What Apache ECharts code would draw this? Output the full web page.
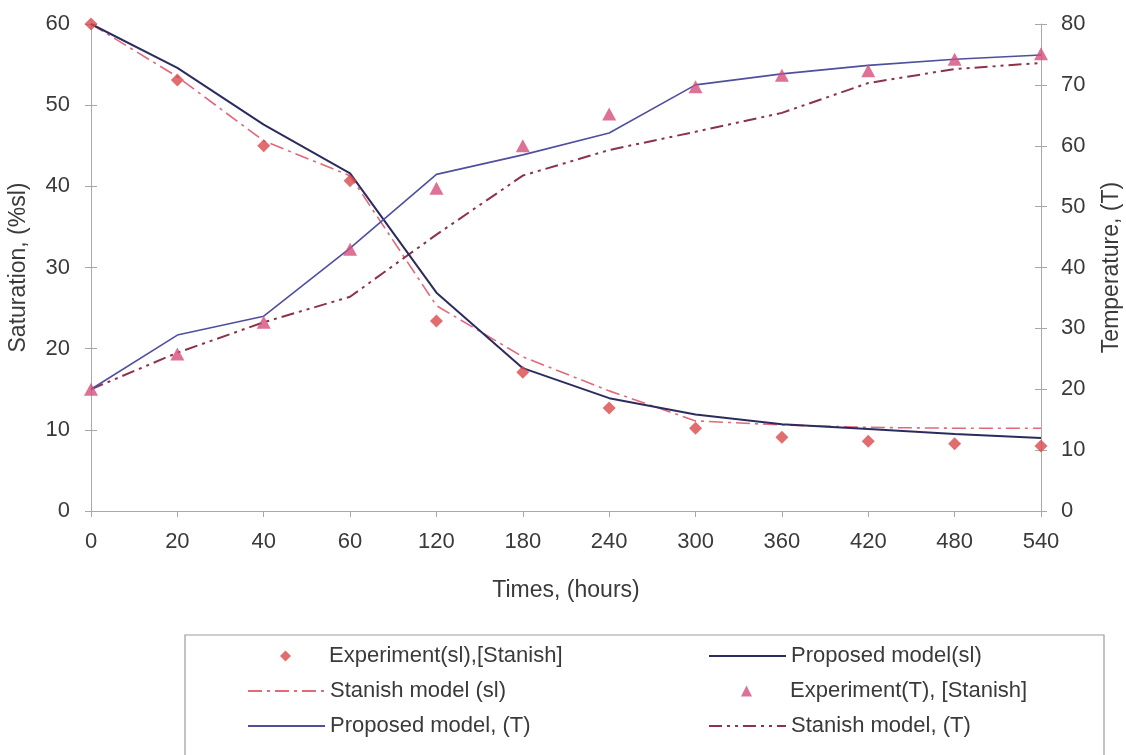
<!DOCTYPE html>
<html>
<head>
<meta charset="utf-8">
<script src="https://cdn.jsdelivr.net/npm/echarts@6/dist/echarts.min.js"></script>
<style>
  html, body { margin: 0; padding: 0; background: #ffffff; }
  #chart { width: 1126px; height: 755px; }
</style>
</head>
<body>
<div id="chart"></div>
<script>
// Sampling times (hours) – equally spaced categories on the x axis
const hours = ['0', '20', '40', '60', '120', '180', '240', '300', '360', '420', '480', '540'];

// Saturation (%sl), left axis
const experimentSl = [60, 53.1, 45.0, 40.7, 23.4, 17.1, 12.7, 10.2, 9.1, 8.6, 8.3, 8.0];
const proposedSl   = [60, 54.6, 47.6, 41.6, 26.9, 17.6, 13.9, 11.9, 10.7, 10.1, 9.5, 9.0];
const stanishSl    = [60, 53.5, 45.6, 41.3, 25.3, 19.0, 14.8, 11.1, 10.6, 10.3, 10.2, 10.2];

// Temperature (T), right axis
const experimentT = [20, 25.8, 31.0, 43.0, 53.0, 60.0, 65.2, 69.7, 71.6, 72.3, 74.2, 75.1];
const proposedT   = [20, 28.9, 32.0, 43.2, 55.3, 58.5, 62.1, 70.0, 71.8, 73.2, 74.2, 74.9];
const stanishT    = [20, 26.0, 31.0, 35.2, 45.4, 55.1, 59.3, 62.3, 65.4, 70.3, 72.6, 73.6];

// Axis ticks
const satAxis  = { min: 0, max: 60, interval: 10 };
const tempAxis = { min: 0, max: 80, interval: 10 };

const names = {
  expSl: 'Experiment(sl),[Stanish]',
  propSl: 'Proposed model(sl)',
  stanSl: 'Stanish model (sl)',
  expT: 'Experiment(T), [Stanish]',
  propT: 'Proposed model, (T)',
  stanT: 'Stanish model, (T)'
};

const FONT = '"Liberation Sans", Arial, sans-serif';
const TEXT = '#3a3a3a';
const AXIS = '#a8a8a8';
const FS = 22;

const colors = {
  expSl: '#d9494a',
  propSl: '#2b2c5e',
  stanSl: '#e2687c',
  expT: '#d44d7c',
  propT: '#4f4f9e',
  stanT: '#8a3349'
};

const grid = { left: 91, right: 85, top: 24, bottom: 244, containLabel: false, outerBoundsMode: 'none' };

// Primary axes carry lines, labels and outward ticks; the twin axes add
// inward ticks so every tick mark crosses its axis line.
function xBase(extra) {
  return Object.assign({
    type: 'category', data: hours, boundaryGap: false,
    splitLine: { show: false }
  }, extra);
}
function yBase(range, pos, extra) {
  return Object.assign({
    type: 'value', position: pos,
    min: range.min, max: range.max, interval: range.interval,
    splitLine: { show: false }
  }, extra);
}

const option = {
  backgroundColor: '#ffffff',
  animation: false,
  textStyle: { fontFamily: FONT },
  grid: grid,
  xAxis: [
    xBase({
      axisLine: { show: true, lineStyle: { color: AXIS, width: 1 } },
      axisTick: { show: true, inside: false, length: 6, lineStyle: { color: AXIS } },
      axisLabel: { color: TEXT, fontSize: FS, fontFamily: FONT, margin: 20 },
      name: 'Times, (hours)', nameLocation: 'middle', nameGap: 68,
      nameTextStyle: { color: TEXT, fontSize: 23, fontFamily: FONT }
    }),
    xBase({
      axisLine: { show: false },
      axisTick: { show: true, inside: true, length: 6, lineStyle: { color: AXIS } },
      axisLabel: { show: false }
    })
  ],
  yAxis: [
    yBase(satAxis, 'left', {
      axisLine: { show: true, lineStyle: { color: AXIS, width: 1 } },
      axisTick: { show: true, inside: false, length: 6, lineStyle: { color: AXIS } },
      axisLabel: { color: TEXT, fontSize: FS, fontFamily: FONT, margin: 21 },
      name: 'Saturation, (%sl)', nameLocation: 'middle', nameGap: 61, nameRotate: 90,
      nameTextStyle: { color: TEXT, fontSize: 23, fontFamily: FONT }
    }),
    yBase(tempAxis, 'right', {
      axisLine: { show: true, lineStyle: { color: AXIS, width: 1 } },
      axisTick: { show: true, inside: false, length: 6, lineStyle: { color: AXIS } },
      axisLabel: { color: TEXT, fontSize: FS, fontFamily: FONT, margin: 20 },
      name: 'Temperature, (T)', nameLocation: 'middle', nameGap: 59, nameRotate: 90,
      nameTextStyle: { color: TEXT, fontSize: 23, fontFamily: FONT }
    }),
    yBase(satAxis, 'left', {
      axisLine: { show: false },
      axisTick: { show: true, inside: true, length: 6, lineStyle: { color: AXIS } },
      axisLabel: { show: false }
    }),
    yBase(tempAxis, 'right', {
      axisLine: { show: false },
      axisTick: { show: true, inside: true, length: 6, lineStyle: { color: AXIS } },
      axisLabel: { show: false }
    })
  ],
  legend: [],
  graphic: [{
    type: 'rect', silent: true, z: -1,
    shape: { x: 185, y: 635, width: 919, height: 130 },
    style: { fill: 'none', stroke: '#9c9c9c', lineWidth: 1.2 }
  }],
  series: [
    {
      name: names.stanSl, type: 'line', data: stanishSl, yAxisIndex: 0,
      symbol: 'none', z: 2,
      lineStyle: { color: colors.stanSl, width: 1.6, type: [14, 5, 3, 5] },
      itemStyle: { color: colors.stanSl, opacity: 0 }
    },
    {
      name: names.propSl, type: 'line', data: proposedSl, yAxisIndex: 0,
      symbol: 'none', z: 3,
      lineStyle: { color: colors.propSl, width: 2 },
      itemStyle: { color: colors.propSl, opacity: 0 }
    },
    {
      name: names.stanT, type: 'line', data: stanishT, yAxisIndex: 1,
      symbol: 'none', z: 2,
      lineStyle: { color: colors.stanT, width: 2, type: [13, 5, 3, 5, 3, 5] },
      itemStyle: { color: colors.stanT, opacity: 0 }
    },
    {
      name: names.propT, type: 'line', data: proposedT, yAxisIndex: 1,
      symbol: 'none', z: 3,
      lineStyle: { color: colors.propT, width: 1.6 },
      itemStyle: { color: colors.propT, opacity: 0 }
    },
    {
      name: names.expSl, type: 'scatter', data: experimentSl, yAxisIndex: 0,
      symbol: 'diamond', symbolSize: 13, z: 4,
      itemStyle: { color: colors.expSl }
    },
    {
      name: names.expT, type: 'scatter', data: experimentT, yAxisIndex: 1,
      symbol: 'triangle', symbolSize: [14, 13], z: 4,
      itemStyle: { color: colors.expT }
    }
  ]
};

// Legend laid out as two columns of three rows inside the framed box.
// Line entries use a 77px sample; marker entries sit centred over that sample
// width, with the label pushed across to the common text column.
const SAMPLE = 77;
const legendCells = [
  { name: names.expSl,  col: 247, row: 0, marker: 'diamond',  size: 11 },
  { name: names.stanSl, col: 247, row: 1 },
  { name: names.propT,  col: 247, row: 2 },
  { name: names.propSl, col: 708, row: 0 },
  { name: names.expT,   col: 708, row: 1, marker: 'triangle', size: 11 },
  { name: names.stanT,  col: 708, row: 2 }
];
const rowCenters = [656, 691, 726];
legendCells.forEach(function (c) {
  const base = {
    top: rowCenters[c.row] - 11,
    padding: 0,
    itemGap: 0,
    selectedMode: false
  };
  if (c.marker) {
    const offset = (SAMPLE - c.size) / 2;
    option.legend.push(Object.assign(base, {
      data: [{ name: c.name, icon: c.marker }],
      left: c.col + offset,
      itemWidth: c.size,
      itemHeight: c.size,
      textStyle: { color: TEXT, fontSize: FS, fontFamily: FONT, lineHeight: 22, padding: [0, 0, 0, offset] }
    }));
  } else {
    option.legend.push(Object.assign(base, {
      data: [{ name: c.name }],
      left: c.col,
      itemWidth: SAMPLE,
      itemHeight: 14,
      itemStyle: { opacity: 0 },
      textStyle: { color: TEXT, fontSize: FS, fontFamily: FONT, lineHeight: 22 }
    }));
  }
});

const chart = echarts.init(document.getElementById('chart'), null, { renderer: 'canvas' });
chart.setOption(option);
</script>
</body>
</html>
